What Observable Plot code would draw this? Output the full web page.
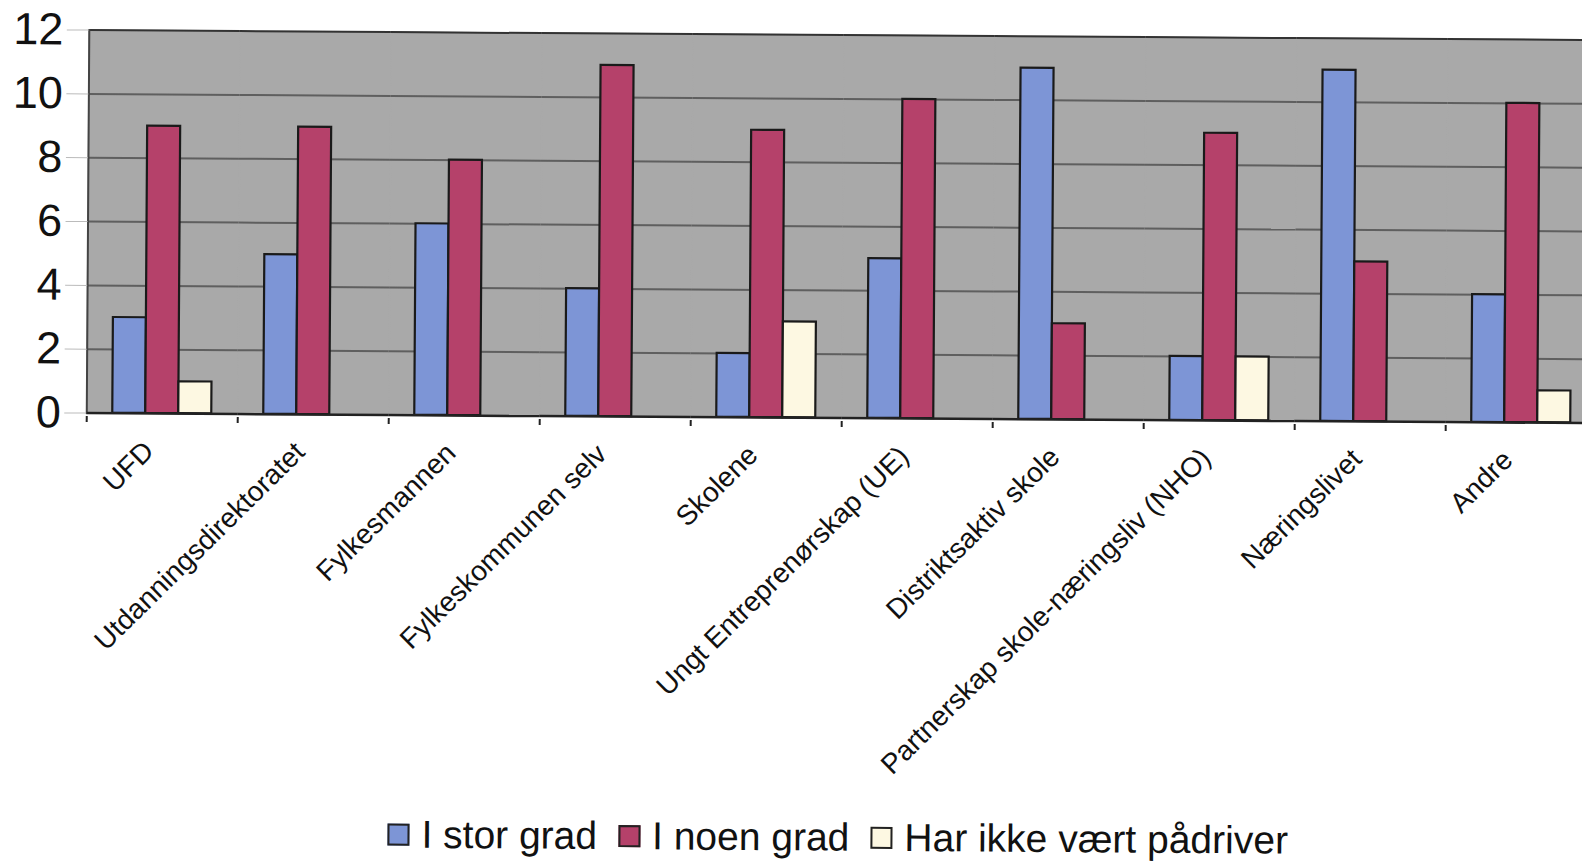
<!DOCTYPE html>
<html>
<head>
<meta charset="utf-8">
<script src="https://cdn.jsdelivr.net/npm/d3@7"></script>
<script src="https://cdn.jsdelivr.net/npm/@observablehq/plot@0.6"></script>
<style>
  html, body { margin: 0; padding: 0; background: #ffffff; overflow: hidden; width: 1582px; height: 861px; }
  #clip { position: absolute; left: 0; top: 0; width: 1582px; height: 861px; overflow: hidden; }
  #wrap { position: relative; width: 1582px; height: 845px; transform: rotate(0.38deg); transform-origin: 0 0; font-family: "Liberation Sans", Arial, sans-serif; }
  #chart svg { max-width: none !important; display: block; }
  #legend { position: absolute; left: 393px; top: 810px; display: flex; align-items: center; font-size: 39px; color: #111; white-space: nowrap; }
  #legend .item { display: flex; align-items: center; margin-right: 21px; }
  #legend .sw { width: 18px; height: 18px; border: 2px solid #222; margin-right: 12px; }
</style>
</head>
<body>
<div id="clip">
<div id="wrap">
  <div id="chart"></div>
  <div id="legend"></div>
</div>
</div>
<script>
const categories = [
  "UFD",
  "Utdanningsdirektoratet",
  "Fylkesmannen",
  "Fylkeskommunen selv",
  "Skolene",
  "Ungt Entreprenørskap (UE)",
  "Distriktsaktiv skole",
  "Partnerskap skole-næringsliv (NHO)",
  "Næringslivet",
  "Andre"
];
const seriesNames = ["I stor grad", "I noen grad", "Har ikke vært pådriver"];
const iStorGrad = [3, 5, 6, 4, 2, 5, 11, 2, 11, 4];
const iNoenGrad = [9, 9, 8, 11, 9, 10, 3, 9, 5, 10];
const harIkke   = [1, 0, 0, 0, 3, 0, 0, 2, 0, 1];
const seriesColors = ["#7d95d6", "#b5416a", "#fdf8e2"];
const yTicks = [0, 2, 4, 6, 8, 10, 12];
const gridValues = [2, 4, 6, 8, 10];

const seriesValues = [iStorGrad, iNoenGrad, harIkke];
const data = [];
categories.forEach((c, i) => {
  seriesNames.forEach((s, j) => {
    data.push({category: c, series: s, value: seriesValues[j][i]});
  });
});

const tickSymbol = {
  draw(context) {
    context.moveTo(0, 0);
    context.lineTo(0, 6);
  }
};

// the plot area runs past the right edge of the page, as in the reference
const width = 1601, height = 790;

const chart = Plot.plot({
  width,
  height,
  marginTop: 29,
  marginBottom: 378,
  marginLeft: 86,
  marginRight: 0,
  style: {fontFamily: "'Liberation Sans', Arial, sans-serif", background: "transparent", overflow: "visible"},
  fx: {domain: categories, padding: 0, axis: null},
  x: {domain: seriesNames, paddingInner: 0, paddingOuter: 0.75, axis: null},
  y: {domain: [0, 12], axis: null},
  color: {domain: seriesNames, range: seriesColors},
  marks: [
    Plot.frame({fill: "#a9a9a9", stroke: "#a9a9a9", strokeWidth: 1.5}),
    Plot.ruleY(gridValues, {stroke: "#5f5f5f", strokeWidth: 2}),
    Plot.ruleY([12], {stroke: "#333", strokeWidth: 2}),
    Plot.frame({anchor: "left", facetAnchor: "left", stroke: "#444", strokeWidth: 2}),
    Plot.barY(data, {fx: "category", x: "series", y: "value", fill: "series", stroke: "#1a1a1a", strokeWidth: 2.2}),
    Plot.ruleY([0], {stroke: "#222", strokeWidth: 2.5}),
    Plot.dot(categories, {fx: d => d, frameAnchor: "bottom-left", symbol: tickSymbol, stroke: "#222", strokeWidth: 2, fill: null, dy: 3}),
    Plot.text(categories, {fx: d => d, text: d => d, frameAnchor: "bottom", rotate: -45, textAnchor: "end", lineAnchor: "middle", fontSize: 28, fill: "#111", dx: -13, dy: 33}),
    Plot.axisY(yTicks, {anchor: "left", label: null, tickSize: 22, tickPadding: 4, fontSize: 45, stroke: "#bbb", fill: "#111"})
  ]
});
document.getElementById("chart").appendChild(chart);

const legend = document.getElementById("legend");
seriesNames.forEach((s, i) => {
  const item = document.createElement("div");
  item.className = "item";
  const sw = document.createElement("div");
  sw.className = "sw";
  sw.style.background = seriesColors[i];
  const t = document.createElement("span");
  t.textContent = s;
  item.appendChild(sw);
  item.appendChild(t);
  legend.appendChild(item);
});
</script>
</body>
</html>
